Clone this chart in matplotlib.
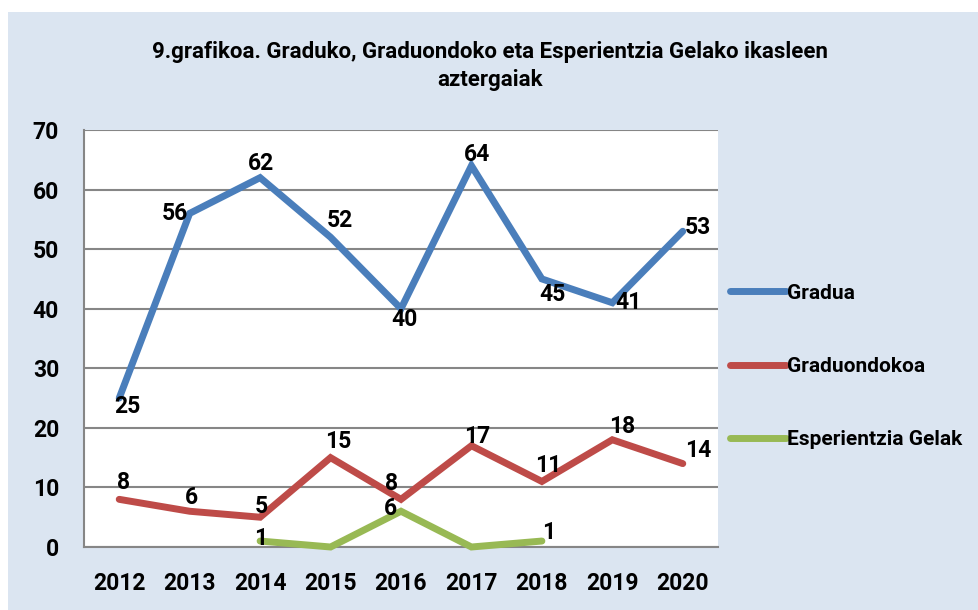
import matplotlib.pyplot as plt
from matplotlib.patches import Rectangle
import numpy as np

# data
years = ['2012', '2013', '2014', '2015', '2016', '2017', '2018', '2019', '2020']
gradua = [25, 56, 62, 52, 40, 64, 45, 41, 53]
graduondokoa = [8, 6, 5, 15, 8, 17, 11, 18, 14]
esp_years = ['2014', '2015', '2016', '2017', '2018']
esperientzia = [1, 0, 6, 0, 1]

# label offsets (pixels) so the numbers sit where Excel put them
gradua_off = [(8, -8), (-15, 0), (1, 14), (9, 17), (3, -11), (6, 11), (11, -16), (16, 0), (15, 4)]
gradu_off = [(4, 17), (2, 14), (1, 11), (8, 16), (-9, 16), (6, 9), (6, 16), (10, 13), (15, 13)]
esp_off = [(1, 3), None, (-11, 3), None, (7, 9)]

plt.rcParams['font.family'] = ['Roboto', 'DejaVu Sans']
plt.rcParams['font.weight'] = 'bold'

fig = plt.figure(figsize=(9.79, 6.10), dpi=100, facecolor='white')
fig.patches.append(Rectangle((8 / 979, 0), 1, (610 - 12) / 610, transform=fig.transFigure,
                             facecolor='#DBE5F1', edgecolor='none', zorder=-10))

ax = fig.add_axes([84 / 979, 1 - 547 / 610, 634 / 979, 417 / 610])
ax.set_facecolor('white')

x = np.arange(len(years))
x_esp = np.array([years.index(y) for y in esp_years])

series = [
    (x, gradua, '#4A7EBB', 'Gradua', gradua_off),
    (x, graduondokoa, '#BE4B48', 'Graduondokoa', gradu_off),
    (x_esp, esperientzia, '#98B954', 'Esperientzia Gelak', esp_off),
]
for xs, ys, col, name, offs in series:
    ax.plot(xs, ys, color=col, lw=5, solid_capstyle='round', solid_joinstyle='miter',
            label=name, zorder=3, clip_on=False)
    for xi, yi, off in zip(xs, ys, offs):
        if off is None:
            continue
        ax.annotate(str(yi), (xi, yi), xytext=off, textcoords='offset pixels',
                    ha='center', va='center', fontsize=16.5, fontweight='bold', zorder=4)

ax.set_xlim(-0.5, len(years) - 0.5)
ax.set_ylim(0, 70)
ax.set_yticks(range(0, 71, 10))
ax.set_xticks(x)
ax.set_xticklabels(years)
ax.grid(axis='y', color='#868686', lw=1.5, zorder=1)
ax.tick_params(length=0, labelsize=16.5, pad=18)
for lab in ax.get_xticklabels() + ax.get_yticklabels():
    lab.set_fontweight('bold')
for s in ['top', 'right']:
    ax.spines[s].set_visible(False)
for s in ['left', 'bottom']:
    ax.spines[s].set_color('#868686')
    ax.spines[s].set_linewidth(1.5)

fig.text(490 / 979, 1 - 66 / 610,
         '9.grafikoa. Graduko, Graduondoko eta Esperientzia Gelako ikasleen\naztergaiak',
         ha='center', va='center', fontsize=16, fontweight='bold', linespacing=1.35)

leg = fig.legend(loc='upper left', bbox_to_anchor=(711 / 979, 1 - 265 / 610), frameon=False,
                 handlelength=2.7, handletextpad=0.05, labelspacing=2.6,
                 prop={'weight': 'bold', 'size': 15})

fig.savefig('out.png', dpi=100)
